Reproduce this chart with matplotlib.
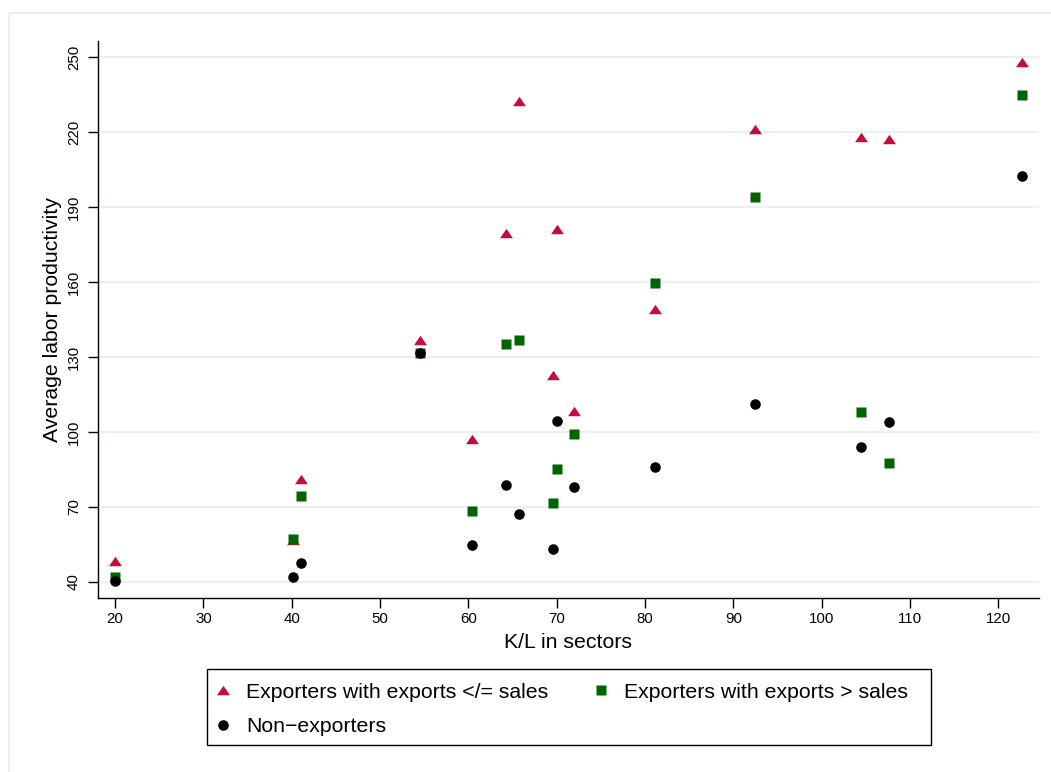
import numpy as np
import matplotlib.pyplot as plt
from matplotlib.lines import Line2D
from matplotlib.patches import Rectangle

plt.rcParams["font.family"] = ["Liberation Sans", "DejaVu Sans"]

# K/L ratio of each sector
kl = [20.0, 40.1, 41.1, 54.5, 60.4, 64.3, 65.7, 69.6, 70.0, 72.0,
      81.1, 92.5, 104.5, 107.6, 122.7]
# average labor productivity by firm group
exp_le_sales = [48.4, 56.8, 81.3, 137.0, 97.2, 179.6, 232.4, 122.7, 181.2,
                108.5, 149.0, 221.3, 218.1, 217.2, 248.0]
exp_gt_sales = [42.1, 57.3, 74.5, 131.5, 68.5, 135.1, 136.7, 71.6, 85.3,
                99.3, 159.6, 194.0, 107.9, 87.6, 234.8]
non_exporters = [40.4, 42.1, 47.7, 131.5, 54.9, 78.7, 67.2, 53.3, 104.5,
                 78.1, 86.1, 111.1, 94.1, 104.1, 202.5]

labels = ["Exporters with exports </= sales", "Exporters with exports > sales",
          "Non\u2212exporters"]
x_ticks = [20, 30, 40, 50, 60, 70, 80, 90, 100, 110, 120]
y_ticks = [40, 70, 100, 130, 160, 190, 220, 250]

W, H = 1051, 772
RED = "#C60C3B"
GREEN = "#006400"
GRID = "#EAF1F3"
tri = [(-1, -0.73), (1, -0.73), (0, 0.73)]


def fx(px):
    return px / W


def fy(py):
    return 1 - py / H


fig = plt.figure(figsize=(W / 100, H / 100), dpi=100)

# outer frame (light line, cropped at right/bottom)
fig.add_artist(Line2D([fx(9), 1], [fy(13), fy(13)], color=GRID, lw=1.5))
fig.add_artist(Line2D([fx(9), fx(9)], [0, fy(13)], color=GRID, lw=1.5))

left, right, top, bottom = 97.7, 1039, 40.7, 598.3
ax = fig.add_axes([fx(left), fy(bottom), fx(right - left), (bottom - top) / H])

h1, = ax.plot(kl, exp_le_sales, ls="none", marker=tri, ms=9.3, color=RED,
              mec="none", zorder=3)
h2, = ax.plot(kl, exp_gt_sales, ls="none", marker="s", ms=7.2, color=GREEN,
              mec="none", zorder=4)
h3, = ax.plot(kl, non_exporters, ls="none", marker="o", ms=7.6, color="black",
              mec="none", zorder=5)

ax.set_xlim(18.04, 124.6)
ax.set_ylim(33.5, 256.5)
ax.set_xticks(x_ticks)
ax.set_yticks(y_ticks)
ax.tick_params(axis="both", direction="out", length=7, width=1,
               labelsize=10.8, color="black")
ax.tick_params(axis="x", pad=3)
ax.tick_params(axis="y", pad=5)
for lab in ax.get_yticklabels():
    lab.set_rotation(90)
    lab.set_va("center")

for side in ["top", "right"]:
    ax.spines[side].set_visible(False)
for side in ["left", "bottom"]:
    ax.spines[side].set_linewidth(1.0)
ax.yaxis.grid(True, color=GRID, lw=1.5)
ax.set_axisbelow(True)

ax.set_xlabel("K/L in sectors", fontsize=15.3)
ax.set_ylabel("Average labor productivity", fontsize=15.3)
ax.xaxis.set_label_coords(0.5, -0.0628)
ax.yaxis.set_label_coords(-0.0382, 0.5)

# legend: box drawn separately, entries placed inside
fig.add_artist(Rectangle((fx(207), fy(745)), fx(931 - 207), (745 - 669) / H,
                         fill=False, ec="black", lw=1.0))
fig.legend([h1, h3, h2], [labels[0], labels[2], labels[1]], ncol=2,
           loc="upper left", bbox_to_anchor=(fx(214.8), fy(682.5)),
           frameon=False, fontsize=15.3, borderpad=0, borderaxespad=0,
           handlelength=0.8, handletextpad=0.69, labelspacing=0.73,
           columnspacing=2.05)

fig.savefig("out.png", dpi=100)
